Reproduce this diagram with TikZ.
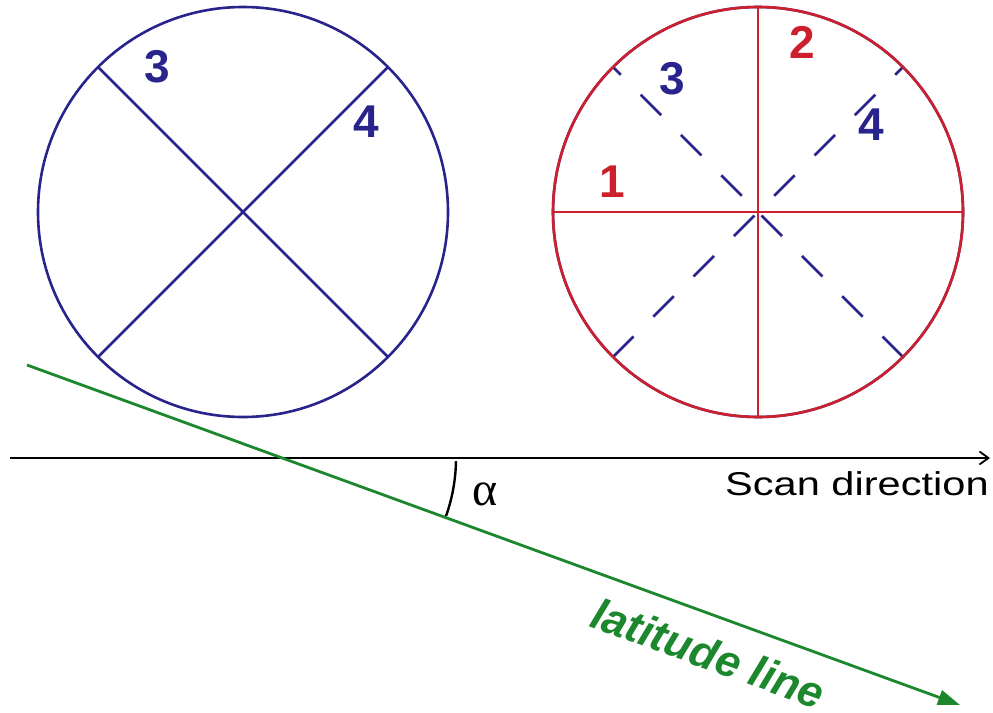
\documentclass[tikz,border=0pt]{standalone}
\usepackage{fontspec}
\setmainfont{Liberation Sans}
\newfontfamily\greekfont{Liberation Serif}
\usetikzlibrary{arrows.meta}
\definecolor{cblue}{RGB}{40,36,140}
\definecolor{cred}{RGB}{205,32,45}
\definecolor{cgreen}{RGB}{28,135,45}
\begin{document}
\begin{tikzpicture}[x=1pt,y=-1pt,
  num/.style={font=\fontsize{46}{50}\selectfont\bfseries, inner sep=0pt},
  rim/.style={line width=2.6pt},
  dashline/.style={cblue, line width=2.6pt, dash pattern=on 29pt off 28pt}]
\useasboundingbox[fill=white] (0,0) rectangle (993,712);
% left circle
\coordinate (L) at (243,212);
\coordinate (La) at (98,67);
\coordinate (Lb) at (388,357);
\coordinate (Lc) at (388,67);
\coordinate (Ld) at (98,357);
\draw[rim, cblue] (L) circle[radius=205];
\draw[rim, cblue] (La) -- (Lb);
\draw[rim, cblue] (Lc) -- (Ld);
\node[num, text=cblue] (l3) at (157,67) {3};
\node[num, text=cblue] (l4) at (366,122) {4};
% right circle
\coordinate (R) at (758,212);
\coordinate (Rt) at (758,7);
\coordinate (Rb) at (758,417);
\coordinate (Rl) at (553,212);
\coordinate (Rr) at (963,212);
\coordinate (Rll) at (613,357);
\coordinate (Rur) at (903,67);
\coordinate (Rlr) at (903,357);
\coordinate (Rul) at (613,67);
\draw[dashline] (Rll) -- (Rur);
\draw[dashline] (Rlr) -- (Rul);
\draw[rim, cblue] (R) circle[radius=205];
\draw[rim, cred] (R) circle[radius=205];
\draw[rim, cred] (Rt) -- (Rb);
\draw[rim, cred] (Rl) -- (Rr);
\node[num, text=cred] (r2) at (802,42) {2};
\node[num, text=cblue] (r3) at (672,79) {3};
\node[num, text=cblue] (r4) at (871,125) {4};
\node[num, text=cred] (r1) at (612,182) {1};
% scan axis
\coordinate (A0) at (10,458);
\coordinate (A1) at (990,458);
\draw[line width=2.6pt, -{Straight Barb[length=9pt,width=13pt,line width=1.8pt]}] (A0) -- (A1);
\node[anchor=base west, inner sep=0pt, font=\fontsize{33}{37}\selectfont] (scan) at (725,495) {\scalebox{1.26}[1]{Scan direction}};
% latitude line
\coordinate (G0) at (27,365);
\coordinate (G1) at (960,705);
\draw[cgreen, line width=2.8pt, -{Triangle[length=22pt,width=15pt]}] (G0) -- (G1);
\node[anchor=base west, inner sep=0pt, rotate=-20, text=cgreen, font=\fontsize{44}{48}\selectfont\bfseries\itshape] (lat) at (588,626) {latitude line};
% angle
\coordinate (O) at (282,458);
\draw[line width=2.4pt] (O) ++(1:174) arc[start angle=1, end angle=19.5, radius=174];
\node[inner sep=0pt, font=\greekfont\fontsize{48}{52}\selectfont] (alpha) at (485,494) {α};
\end{tikzpicture}
\end{document}
